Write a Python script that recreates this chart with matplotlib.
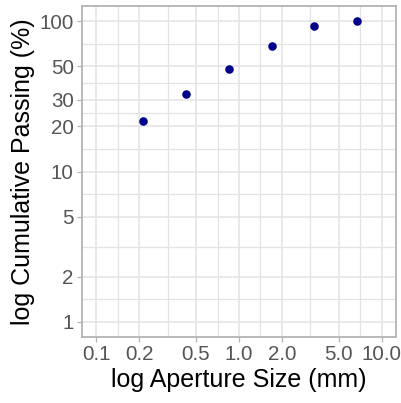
import matplotlib
matplotlib.use("Agg")
import matplotlib.pyplot as plt
import numpy as np

# sieve data
aperture_mm = [0.212, 0.425, 0.85, 1.7, 3.35, 6.7]
cum_passing = [21.5, 32.6, 48.0, 68.4, 92.6, 100.0]

x_breaks = [0.1, 0.2, 0.5, 1.0, 2.0, 5.0, 10.0]
x_labels = ["0.1", "0.2", "0.5", "1.0", "2.0", "5.0", "10.0"]
y_breaks = [1, 2, 5, 10, 20, 30, 50, 100]
y_labels = ["1", "2", "5", "10", "20", "30", "50", "100"]

plt.rcParams["font.family"] = ["Liberation Sans", "DejaVu Sans"]

fig = plt.figure(figsize=(4.01, 4.03), dpi=100)
ax = fig.add_axes([82 / 401, 1 - 337 / 403, (396 - 82) / 401, (337 - 6) / 403])

ax.set_xscale("log")
ax.set_yscale("log")
ax.set_xlim(10 ** -1.1, 10 ** 1.1)
ax.set_ylim(10 ** -0.1, 10 ** 2.1)

grid_col = "#e3e3e3"
# minor grid at log-midpoints between breaks (ggplot style)
x_minor = np.sqrt(np.array(x_breaks[:-1]) * np.array(x_breaks[1:]))
y_minor = np.sqrt(np.array(y_breaks[:-1]) * np.array(y_breaks[1:]))
for v in x_minor:
    ax.axvline(v, color=grid_col, lw=0.9, zorder=0)
for v in y_minor:
    ax.axhline(v, color=grid_col, lw=0.9, zorder=0)
for v in x_breaks:
    ax.axvline(v, color=grid_col, lw=1.1, zorder=0)
for v in y_breaks:
    ax.axhline(v, color=grid_col, lw=1.1, zorder=0)

ax.scatter(aperture_mm, cum_passing, s=38, color="#00008B", zorder=3, linewidths=0)

ax.set_xticks(x_breaks)
ax.set_xticklabels(x_labels)
ax.set_yticks(y_breaks)
ax.set_yticklabels(y_labels)
ax.minorticks_off()
ax.tick_params(axis="both", which="major", direction="out", length=3.5, width=0.9,
               color="#b3b3b3", labelcolor="#555555", labelsize=14.8, pad=2.5)

for side, sp in ax.spines.items():
    sp.set_color("#b3b3b3")
    sp.set_linewidth(1.3)

ax.set_xlabel("log Aperture Size (mm)", fontsize=18, color="black", labelpad=3)
ax.set_ylabel("log Cumulative Passing (%)", fontsize=18, color="black", labelpad=3)

fig.savefig("out.png", dpi=100, facecolor="white")
